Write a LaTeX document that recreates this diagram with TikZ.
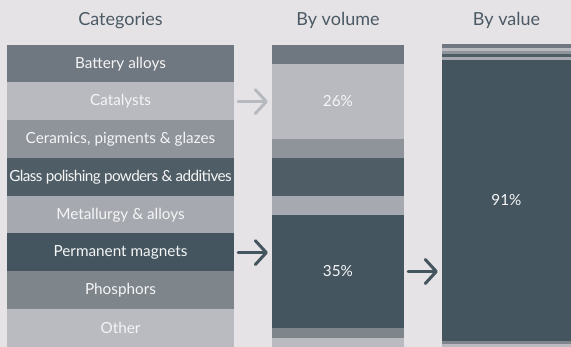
\documentclass[tikz,border=0pt]{standalone}
\usepackage{fontspec}
\setmainfont{Lato}
\usetikzlibrary{arrows.meta}

% palette
\definecolor{bg}{HTML}{E6E3E6}
\definecolor{cBattery}{HTML}{6F7780}
\definecolor{cCatalysts}{HTML}{B8BABF}
\definecolor{cCeramics}{HTML}{8F949B}
\definecolor{cGlass}{HTML}{4F5D66}
\definecolor{cMetal}{HTML}{A6A9B0}
\definecolor{cMagnets}{HTML}{44555F}
\definecolor{cPhosphors}{HTML}{7E868C}
\definecolor{cOther}{HTML}{B9BBC0}
\definecolor{titleText}{HTML}{4B5A64}
\definecolor{labelText}{HTML}{F5F5F6}
\definecolor{arrowLight}{HTML}{B6BABE}

\begin{document}
\begin{tikzpicture}[x=1pt,y=-1pt,
  heading/.style={anchor=base, text=titleText, font=\fontsize{18}{21}\selectfont},
  catbox/.style={minimum width=227pt, minimum height=38.3pt, inner sep=0pt,
    text=labelText, font=\fontsize{15.3}{18}\selectfont},
  volseg/.style={minimum width=132pt, inner sep=0pt, text=labelText,
    font=\fontsize{15.3}{18}\selectfont},
  valseg/.style={minimum width=129pt, inner sep=0pt, text=labelText,
    font=\fontsize{15.3}{18}\selectfont},
  flow/.style={line width=3pt, line cap=round, shorten <=4pt, shorten >=4pt,
    -{Straight Barb[length=11pt, width=24pt, round]}}
]
\fill[bg] (0,0) rectangle (571,347);
\path[use as bounding box] (0,0) rectangle (571,347);

% column headings
\node[heading] (hCat) at (120.5,26) {Categories};
\node[heading] (hVol) at (338,26) {By volume};
\node[heading] (hVal) at (506.5,26) {By value};

% categories column (rows overlap slightly so no seams show)
\node[catbox, fill=cBattery]   (catBattery)   at (120.5, 63.9)  {Battery alloys};
\node[catbox, fill=cCatalysts] (catCatalysts) at (120.5, 101.6) {Catalysts};
\node[catbox, fill=cCeramics]  (catCeramics)  at (120.5, 139.4) {Ceramics, pigments \& glazes};
\node[catbox, fill=cGlass]     (catGlass)     at (120.5, 177.1)
  {\addfontfeature{LetterSpace=-4}Glass polishing powders \& additives};
\node[catbox, fill=cMetal]     (catMetal)     at (120.5, 214.9) {Metallurgy \& alloys};
\node[catbox, fill=cMagnets]   (catMagnets)   at (120.5, 252.6) {Permanent magnets};
\node[catbox, fill=cPhosphors] (catPhosphors) at (120.5, 290.4) {Phosphors};
\node[catbox, fill=cOther]     (catOther)     at (120.5, 328.1) {Other};

% share by volume
\node[volseg, fill=cBattery,   minimum height=19.5pt]  (volBattery)   at (338, 54.5)  {};
\node[volseg, fill=cCatalysts, minimum height=75.5pt]  (volCatalysts) at (338, 101.5) {26\%};
\node[volseg, fill=cCeramics,  minimum height=19.5pt]  (volCeramics)  at (338, 148.5) {};
\node[volseg, fill=cGlass,     minimum height=38.5pt]  (volGlass)     at (338, 177)   {};
\node[volseg, fill=cMetal,     minimum height=19.5pt]  (volMetal)     at (338, 205.5) {};
\node[volseg, fill=cMagnets,   minimum height=113.5pt] (volMagnets)   at (338, 271.5) {35\%};
\node[volseg, fill=cPhosphors, minimum height=10.5pt]  (volPhosphors) at (338, 333)   {};
\node[volseg, fill=cOther,     minimum height=9.5pt]   (volOther)     at (338, 342.5) {};

% share by value
\node[valseg, fill=cBattery,   minimum height=4.5pt]   (valBattery)   at (506.5, 46)    {};
\node[valseg, fill=cCatalysts, minimum height=3.5pt]   (valCatalysts) at (506.5, 49.5)  {};
\node[valseg, fill=cCeramics,  minimum height=3.5pt]   (valCeramics)  at (506.5, 52.5)  {};
\node[valseg, fill=cGlass,     minimum height=3.5pt]   (valGlass)     at (506.5, 55.5)  {};
\node[valseg, fill=cMetal,     minimum height=3.5pt]   (valMetal)     at (506.5, 58.5)  {};
\node[valseg, fill=cMagnets,   minimum height=281.5pt] (valMagnets)   at (506.5, 200.5) {91\%};
\node[valseg, fill=cPhosphors, minimum height=3.5pt]   (valPhosphors) at (506.5, 342.5) {};
\node[valseg, fill=cOther,     minimum height=3.5pt]   (valOther)     at (506.5, 345.5) {};

% flow arrows
\draw[flow, arrowLight] (catCatalysts.east) -- (catCatalysts.east -| volCatalysts.west);
\draw[flow, cMagnets] (catMagnets.east) -- (catMagnets.east -| volMagnets.west);
\draw[flow, cMagnets] (volMagnets.east) -- (volMagnets.east -| valMagnets.west);
\end{tikzpicture}
\end{document}
